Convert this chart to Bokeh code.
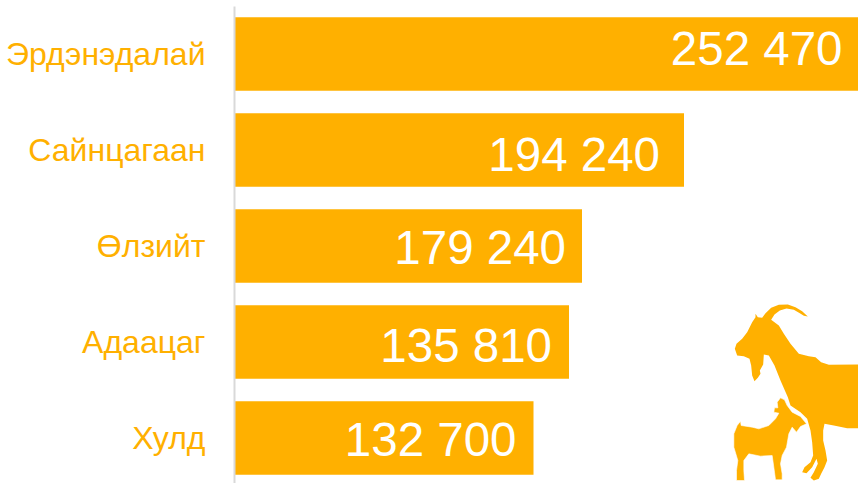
from bokeh.plotting import figure
from bokeh.models import Range1d, FixedTicker
from bokeh.core.properties import value
from bokeh.embed import file_html
from bokeh.resources import INLINE
import numpy as np

categories = ["Эрдэнэдалай", "Сайнцагаан", "Өлзийт", "Адаацаг", "Хулд"]
value_labels = ["252 470", "194 240", "179 240", "135 810", "132 700"]
# the reference's bars are not proportional to their printed numbers: lengths as drawn
bar_lengths = [624, 449.5, 347.5, 334.5, 299]
label_inset = [16, 24, 16, 17, 17]
label_shift = [-6, 4, 1, 3, 2]

goat_x = [103,108,125,140,155,165,165,172,185,195,212,235,262,285,305,322,310,298,280,258,238,222,212,235,250,270,295,325,345,362,385,474,474,440,400,372,368,368,375,380,372,362,355,340,330,340,352,348,335,318,305,312,330,338,335,330,320,300,270,262,240,222,205,190,188,178,180,172,162,155,152,147,130,110]
goat_y = [175,160,145,125,95,80,70,80,82,68,52,43,42,50,62,78,76,68,58,54,60,72,88,105,130,160,190,197,200,215,223,222,413,413,405,400,420,450,480,510,530,550,565,570,562,545,520,505,530,548,545,530,515,495,455,420,385,365,345,320,270,225,195,192,222,240,250,262,272,255,225,205,197,195]
kid_x = [100,110,120,122,155,175,205,225,235,220,222,232,230,240,252,260,275,300,318,300,288,275,265,258,245,240,245,245,225,222,215,180,145,130,130,132,108,108,112,100]
kid_y = [430,405,392,405,410,415,405,385,368,365,352,352,335,322,328,345,365,378,400,408,425,410,430,470,495,520,550,568,568,545,495,497,490,510,540,570,570,540,510,470]

ORANGE = "#FFB000"
W, H = 858, 483
LEFT, TOP = 234, 6

p = figure(width=W, height=H, output_backend="svg", toolbar_location=None,
           x_range=Range1d(0, W - LEFT), y_range=Range1d(4.474, -0.495),
           min_border_left=LEFT, min_border_top=TOP, min_border_right=0, min_border_bottom=0,
           outline_line_color=None, x_axis_location=None)
p.styles = {"position": "absolute", "left": "0", "top": "0"}
p.grid.visible = False
p.extra_x_ranges = {"px": Range1d(LEFT, W)}
p.extra_y_ranges = {"px": Range1d(H, TOP)}

ys = list(range(len(categories)))
ax = p.yaxis[0]
ax.ticker = FixedTicker(ticks=ys)
ax.major_label_overrides = dict(zip(ys, categories))
ax.major_tick_line_color = None
ax.minor_tick_line_color = None
ax.axis_line_color = "#d9d9d9"
ax.axis_line_width = 2
ax.major_label_text_color = ORANGE
ax.major_label_text_font = "Liberation Sans"
ax.major_label_text_font_size = "32px"
ax.major_label_standoff = 23

p.hbar(y=ys, left=0, right=bar_lengths, height=73.5 / 96, color=ORANGE, line_color=None)
p.text(x=[b - i for b, i in zip(bar_lengths, label_inset)], y=ys, text=value_labels,
       y_offset=label_shift, text_align="right", text_baseline="middle",
       text_color="white", text_font=value("Liberation Sans"), text_font_size="47.5px")

for xs, ys_ in ((goat_x, goat_y), (kid_x, kid_y)):
    p.patch(x=np.array(xs) / 3 + 700, y=np.array(ys_) / 3 + 290, color=ORANGE,
            line_color="white" if xs is kid_x else None, line_width=0.6,
            x_range_name="px", y_range_name="px")

open("out.html", "w").write(file_html(p, INLINE))
